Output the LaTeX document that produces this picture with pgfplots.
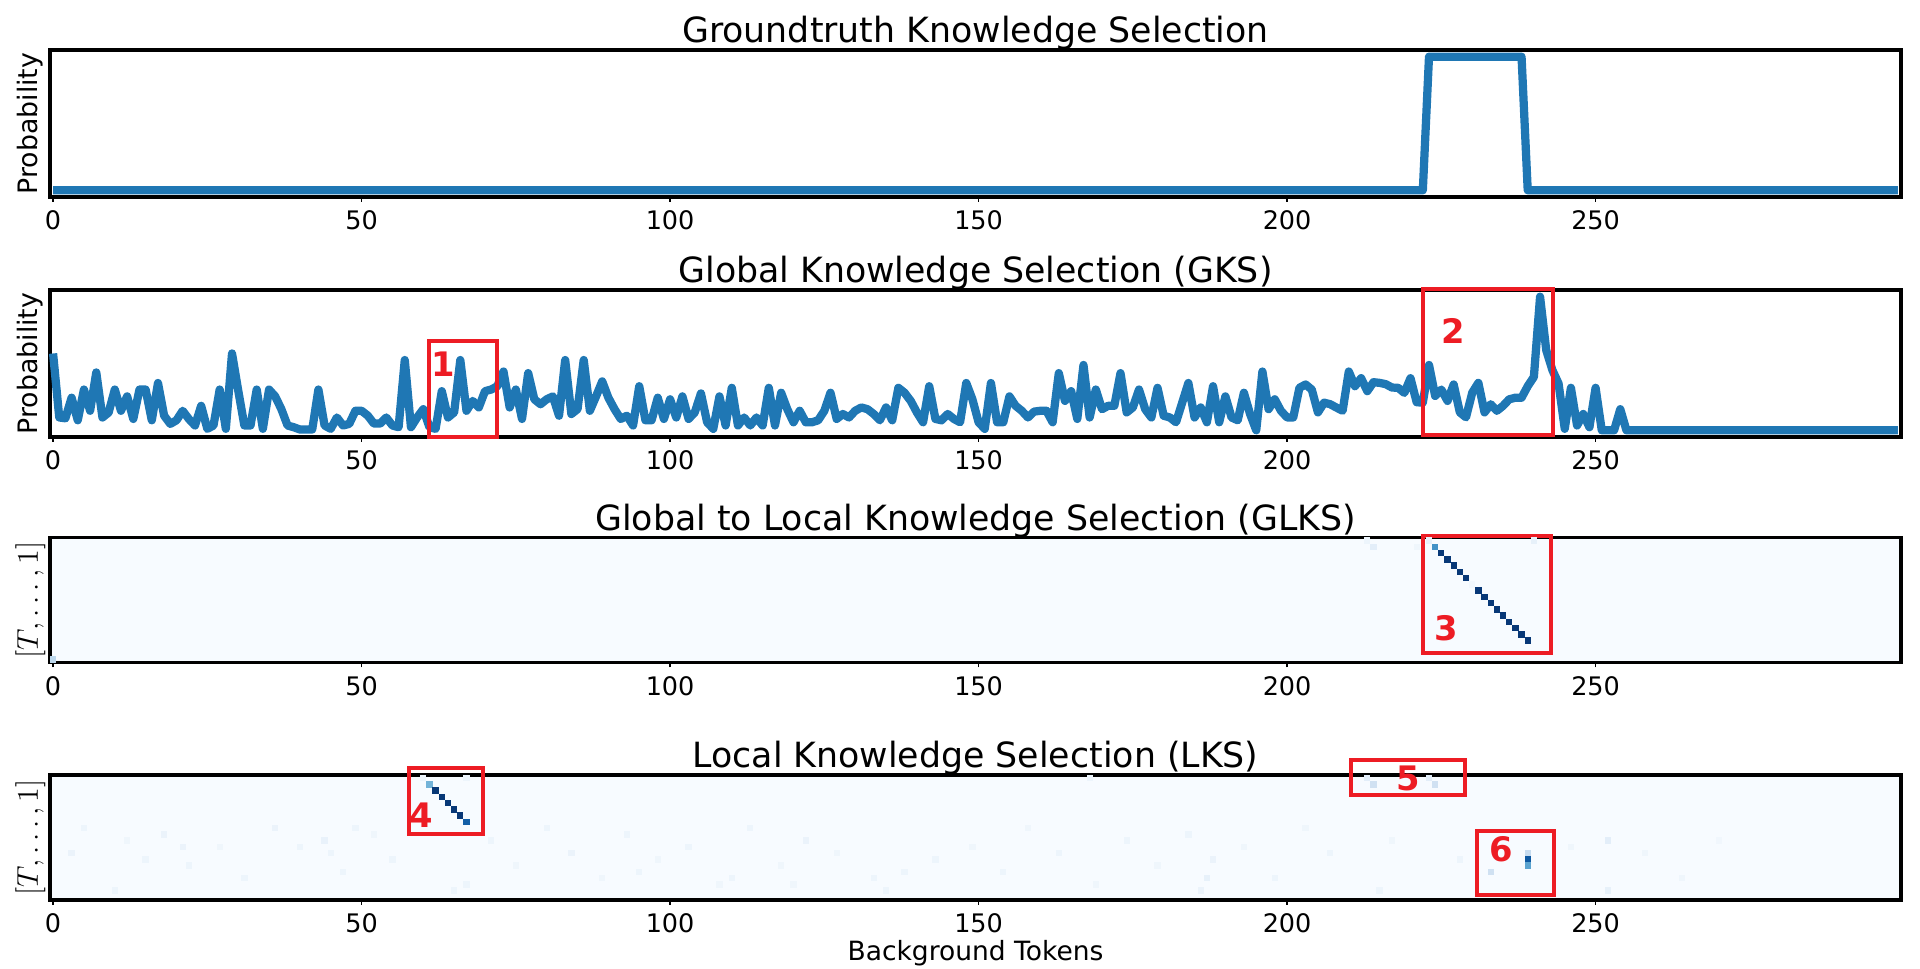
\documentclass[border=0pt]{standalone}
\usepackage{fontspec}
\setmainfont{DejaVu Sans}
\usepackage{pgfplots}
\usepackage{pgfplotstable}
\pgfplotsset{compat=1.18}

\definecolor{mplblue}{RGB}{31,119,180}
\definecolor{boxred}{RGB}{237,28,36}
\definecolor{blues0}{RGB}{247,251,255}

\pgfplotsset{colormap={blues}{rgb255=(247,251,255) rgb255=(222,235,247) rgb255=(198,219,239) rgb255=(158,202,225) rgb255=(107,174,214) rgb255=(66,146,198) rgb255=(33,113,181) rgb255=(8,81,156) rgb255=(8,48,107)}}

% one heatmap cell (axis is 740.4pt / 300 tokens wide, 50pt / 20 rows high)
\pgfdeclareplotmark{cell}{\pgfpathrectangle{\pgfqpoint{-1.26pt}{-1.26pt}}{\pgfqpoint{2.52pt}{2.52pt}}\pgfusepathqfill}

% groundtruth
\pgfplotstableread{
x v
0 0
222 0
223 1
238 1
239 0
299 0
}\gt

% global knowledge selection
\pgfplotstableread{
x v
0 0.575
1 0.096
2 0.09
3 0.244
4 0.075
5 0.305
6 0.146
7 0.433
8 0.096
9 0.133
10 0.305
11 0.146
12 0.254
13 0.085
14 0.305
15 0.305
16 0.075
17 0.354
18 0.109
19 0.048
20 0.075
21 0.146
22 0.085
23 0.036
24 0.183
25 0.011
26 0.036
27 0.305
28 0.011
29 0.575
30 0.30
31 0.036
32 0.036
33 0.305
34 0.011
35 0.305
36 0.254
37 0.158
38 0.036
39 0.023
40 0.006
41 0.006
42 0.006
43 0.305
44 0.036
45 0.011
46 0.096
47 0.036
48 0.048
49 0.146
50 0.146
51 0.11
52 0.05
53 0.05
54 0.096
55 0.036
56 0.023
57 0.526
58 0.023
59 0.096
60 0.158
61 0.023
62 0.011
63 0.293
64 0.096
65 0.134
66 0.526
67 0.146
68 0.22
69 0.171
70 0.293
71 0.305
72 0.33
73 0.44
74 0.171
75 0.305
76 0.085
77 0.428
78 0.232
79 0.195
80 0.232
81 0.254
82 0.109
83 0.526
84 0.122
85 0.158
86 0.526
87 0.146
88 0.254
89 0.366
90 0.244
91 0.158
92 0.085
93 0.109
94 0.036
95 0.330
96 0.075
97 0.075
98 0.244
99 0.085
100 0.232
101 0.096
102 0.254
103 0.085
104 0.134
105 0.276
106 0.06
107 0.011
108 0.254
109 0.036
110 0.318
111 0.036
112 0.096
113 0.036
114 0.096
115 0.036
116 0.318
117 0.036
118 0.281
119 0.158
120 0.06
121 0.146
122 0.06
123 0.06
124 0.075
125 0.146
126 0.281
127 0.085
128 0.122
129 0.096
130 0.146
131 0.171
132 0.158
133 0.122
134 0.075
135 0.171
136 0.075
137 0.318
138 0.281
139 0.22
140 0.134
141 0.06
142 0.33
143 0.085
144 0.075
145 0.122
146 0.085
147 0.06
148 0.354
149 0.232
150 0.06
151 0.011
152 0.354
153 0.06
154 0.06
155 0.254
156 0.183
157 0.146
158 0.096
159 0.14
160 0.146
161 0.146
162 0.06
163 0.428
164 0.22
165 0.293
166 0.085
167 0.489
168 0.096
169 0.305
170 0.158
171 0.183
172 0.183
173 0.428
174 0.134
175 0.171
176 0.305
177 0.158
178 0.096
179 0.318
180 0.109
181 0.096
182 0.06
183 0.207
184 0.354
185 0.096
186 0.171
187 0.06
188 0.33
189 0.06
190 0.254
191 0.096
192 0.075
193 0.281
194 0.122
195 0.0
196 0.44
197 0.158
198 0.232
199 0.146
200 0.096
201 0.096
202 0.318
203 0.343
204 0.305
205 0.134
206 0.207
207 0.195
208 0.170
209 0.146
210 0.44
211 0.33
212 0.39
213 0.293
214 0.36
215 0.355
216 0.345
217 0.32
218 0.318
219 0.28
220 0.39
221 0.21
222 0.207
223 0.489
224 0.257
225 0.305
226 0.22
227 0.343
228 0.134
229 0.097
230 0.281
231 0.355
232 0.134
233 0.195
234 0.146
235 0.183
236 0.232
237 0.244
238 0.244
239 0.33
240 0.40
241 1.0
242 0.60
243 0.45
244 0.35
245 0.011
246 0.318
247 0.036
248 0.122
249 0.023
250 0.318
251 0.0
252 0.0
253 0.0
254 0.158
255 0.0
299 0.0
}\gks

% global to local: token, row, weight
\pgfplotstableread{
x y v
224 1 0.62
225 2 0.97
226 3 0.97
227 4 0.97
228 5 0.97
229 6 0.97
230 7 0.97
231 8 0.97
232 9 0.97
233 10 0.97
234 11 0.97
235 12 0.97
236 13 0.97
237 14 0.97
238 15 0.97
239 16 0.97
223 0 0.08
240 0 0.08
213 0 0.05
214 1 0.10
221 1 0.04
0 19 0.28
230 7 0.03
}\glks

% local knowledge selection
\pgfplotstableread{
x y v
61 1 0.48
62 2 0.97
63 3 0.97
64 4 0.97
65 5 0.97
66 6 0.97
67 7 0.82
60 0 0.05
67 0 0.05
168 0 0.05
213 0 0.10
214 1 0.20
223 0 0.10
224 1 0.20
239 12 0.25
239 13 0.85
239 14 0.55
233 15 0.20
252 10 0.10
252 18 0.08
5 8 0.05
12 10 0.04
18 9 0.06
21 11 0.06
22 14 0.05
27 11 0.04
31 16 0.05
36 8 0.06
40 11 0.05
44 10 0.07
45 12 0.05
47 15 0.05
52 9 0.04
55 13 0.05
67 17 0.05
71 10 0.05
75 14 0.04
80 8 0.05
84 12 0.06
89 16 0.04
93 9 0.05
98 13 0.04
103 11 0.05
108 17 0.04
110 16 0.05
113 8 0.05
118 14 0.04
122 10 0.06
127 12 0.04
133 16 0.05
138 15 0.05
143 13 0.05
149 11 0.04
154 15 0.05
158 8 0.04
163 12 0.05
169 17 0.04
174 10 0.05
179 14 0.04
184 9 0.05
187 16 0.08
188 13 0.06
193 11 0.04
198 16 0.05
203 8 0.04
207 12 0.05
217 10 0.04
228 13 0.05
246 11 0.04
258 12 0.04
264 16 0.04
270 10 0.03
10 18 0.05
65 18 0.05
135 18 0.05
215 18 0.05
3 12 0.06
15 13 0.05
49 8 0.05
95 15 0.05
186 18 0.06
120 17 0.04
}\lks

\tikzset{
  redbox/.style={draw=boxred, line width=1.6pt},
  redlab/.style={text=boxred, font=\bfseries\fontsize{13.5}{15}\selectfont},
  frame/.style={draw=black, line width=1.3pt},
}

\pgfplotsset{
  panel/.style={
    scale only axis, width=740.4pt,
    xmin=-0.5, xmax=299.5,
    xtick={0,50,100,150,200,250},
    ytick=\empty,
    xtick pos=left,
    tick align=outside,
    major tick length=2pt,
    tick style={black, line width=0.6pt},
    axis line style={line width=1.3pt},
    /pgf/number format/assume math mode=true,
    ticklabel style={font=\fontsize{10.2}{12}\selectfont},
    title style={font=\fontsize{13.9}{16}\selectfont, at={(0.5,1)}, anchor=base, yshift=-3.2pt},
    every axis y label/.style={at={(axis description cs:-0.0065,0.5)}, rotate=90, anchor=base, font=\fontsize{10.7}{12}\selectfont},
    clip=false,
  },
  line panel/.style={panel, height=58.8pt, ymin=-0.05, ymax=1.05},
  map panel/.style={panel, height=50pt, ymin=-0.5, ymax=19.5, y dir=reverse,
    colormap name=blues, point meta min=0, point meta max=1,
    axis background/.style={fill=blues0},
    every axis y label/.append style={font=\fontsize{11.6}{13}\selectfont}},
  heat/.style={scatter, only marks, mark=cell, point meta=explicit,
    scatter/use mapped color={draw=none, fill=mapped color}},
}

\begin{document}
\begin{tikzpicture}
\path[use as bounding box] (0,0) rectangle (768pt,387.6pt);

\begin{axis}[line panel, at={(20pt,308.8pt)}, anchor=south west,
  title={Groundtruth Knowledge Selection}, ylabel={Probability}]
\addplot[mplblue, line width=3.3pt, line join=round] table[x=x, y=v] {\gt};
\end{axis}

\begin{axis}[line panel, at={(20pt,212.8pt)}, anchor=south west,
  title={Global Knowledge Selection (GKS)}, ylabel={Probability}]
\addplot[mplblue, line width=3.3pt, line join=round] table[x=x, y=v] {\gks};
\draw[redbox] (axis cs:60.9,-0.05) rectangle (axis cs:72.0,0.668);
\node[redlab] at (axis cs:63.3,0.494) {1};
\draw[redbox] (axis cs:222.0,-0.032) rectangle (axis cs:243.1,1.059);
\node[redlab] at (axis cs:227.0,0.742) {2};
\end{axis}

\begin{axis}[map panel, at={(20pt,122.6pt)}, anchor=south west,
  title={Global to Local Knowledge Selection (GLKS)}, ylabel={$[T, \ldots, 1]$}]
\addplot[heat] table[x=x, y=y, meta=v] {\glks};
% frame again above the cells, as the image spines are
\draw[frame] (rel axis cs:0,0) rectangle (rel axis cs:1,1);
\draw[redbox] (axis cs:222.0,-0.7) rectangle (axis cs:242.7,17.94);
\node[redlab] at (axis cs:225.8,14.0) {3};
\end{axis}

\begin{axis}[map panel, at={(20pt,27.6pt)}, anchor=south west,
  title={Local Knowledge Selection (LKS)}, ylabel={$[T, \ldots, 1]$},
  xlabel={Background Tokens},
  xlabel style={at={(axis description cs:0.5,0)}, anchor=base, yshift=-24.4pt, font=\fontsize{10.6}{12}\selectfont}]
\addplot[heat] table[x=x, y=y, meta=v] {\lks};
\draw[frame] (rel axis cs:0,0) rectangle (rel axis cs:1,1);
\draw[redbox] (axis cs:57.7,-1.64) rectangle (axis cs:69.6,8.94);
\node[redlab] at (axis cs:59.7,6.0) {4};
\draw[redbox] (axis cs:210.3,-2.82) rectangle (axis cs:228.8,2.66);
\node[redlab] at (axis cs:219.6,0.1) {5};
\draw[redbox] (axis cs:230.8,8.54) rectangle (axis cs:243.3,18.74);
\node[redlab] at (axis cs:234.7,11.3) {6};
\end{axis}
\end{tikzpicture}
\end{document}
